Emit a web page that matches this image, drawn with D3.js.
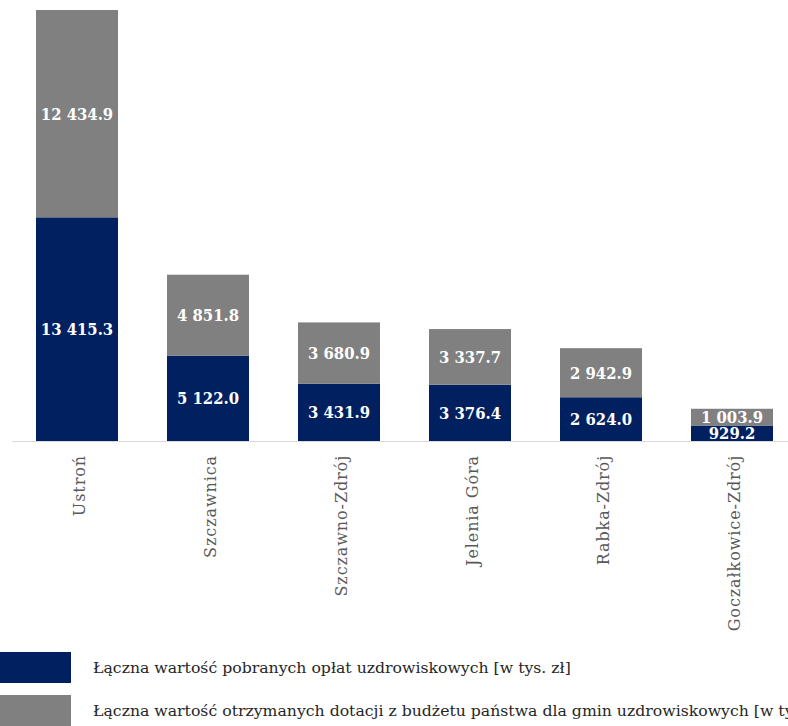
<!DOCTYPE html>
<html>
<head>
<meta charset="utf-8">
<script src="https://cdn.jsdelivr.net/npm/d3@7"></script>
<style>
  body { margin: 0; background: #fff; }
  svg { display: block; }
</style>
</head>
<body>
<svg id="chart" width="788" height="726"></svg>
<script>
const categories = ["Ustroń", "Szczawnica", "Szczawno-Zdrój", "Jelenia Góra", "Rabka-Zdrój", "Goczałkowice-Zdrój"];
const oplaty = [13415.3, 5122.0, 3431.9, 3376.4, 2624.0, 929.2];
const dotacje = [12434.9, 4851.8, 3680.9, 3337.7, 2942.9, 1003.9];
const seriesNames = [
  "Łączna wartość pobranych opłat uzdrowiskowych [w tys. zł]",
  "Łączna wartość otrzymanych dotacji z budżetu państwa dla gmin uzdrowiskowych [w tys. zł]"
];
const colors = ["#002060", "#808080"];

const svg = d3.select("#chart");
const baseY = 441;
const topY = 10;

const rows = categories.map((c, i) => ({ cat: c, s0: oplaty[i], s1: dotacje[i] }));
const stack = d3.stack().keys(["s0", "s1"])(rows);

const x = d3.scaleBand().domain(categories).range([11.5, 797.5])
  .paddingInner(0.374).paddingOuter(0.187);
const maxTotal = d3.max(rows, d => d.s0 + d.s1);
const y = d3.scaleLinear().domain([0, maxTotal]).range([baseY, topY]);

svg.append("defs").append("clipPath").attr("id", "plotClip")
  .append("rect").attr("x", 0).attr("y", 0).attr("width", 800).attr("height", baseY);

const plot = svg.append("g");

stack.forEach((layer, li) => {
  plot.append("g").selectAll("rect").data(layer).join("rect")
    .attr("x", d => x(d.data.cat))
    .attr("width", x.bandwidth())
    .attr("y", d => y(d[1]))
    .attr("height", d => y(d[0]) - y(d[1]))
    .attr("fill", colors[li]);
});

// axis line
svg.append("line")
  .attr("x1", 12).attr("x2", 800)
  .attr("y1", baseY + 0.5).attr("y2", baseY + 0.5)
  .attr("stroke", "#d9d9d9").attr("stroke-width", 1.2);

const fmt = v => {
  const s = v.toFixed(1);
  const [ip, dp] = s.split(".");
  return ip.replace(/\B(?=(\d{3})+(?!\d))/g, " ") + "." + dp;
};

const labels = svg.append("g").attr("clip-path", "url(#plotClip)");
stack.forEach((layer, li) => {
  labels.append("g").selectAll("text").data(layer).join("text")
    .attr("x", d => x(d.data.cat) + x.bandwidth() / 2)
    .attr("y", d => (y(d[0]) + y(d[1])) / 2)
    .attr("dy", "0.36em")
    .attr("text-anchor", "middle")
    .attr("font-family", "'DejaVu Serif Condensed', 'DejaVu Serif', serif")
    .attr("font-stretch", "condensed")
    .attr("font-weight", "bold")
    .attr("font-size", 16.5)
    .attr("fill", "#ffffff")
    .text(d => fmt(d[1] - d[0]));
});

// category labels
const xAxis = d3.axisBottom(x).tickSize(0).tickPadding(0);
const ax = svg.append("g").attr("transform", `translate(0,${baseY})`).call(xAxis);
ax.select(".domain").remove();
ax.selectAll(".tick text")
  .attr("transform", "translate(2,14) rotate(-90)")
  .attr("x", 0).attr("y", 0).attr("dy", "0.35em")
  .attr("text-anchor", "end")
  .attr("font-family", "'DejaVu Serif', serif")
  .attr("font-size", 16)
  .attr("letter-spacing", "0.9px")
  .attr("fill", "#595959");

// legend
const legend = svg.append("g");
const legY = [652, 695];
seriesNames.forEach((name, i) => {
  legend.append("rect").attr("x", 0).attr("y", legY[i]).attr("width", 71).attr("height", 31).attr("fill", colors[i]);
  legend.append("text").attr("x", 93).attr("y", legY[i] + 21)
    .attr("font-family", "'DejaVu Serif', serif")
    .attr("font-size", 15.7)
    .attr("fill", "#262626")
    .text(name);
});
</script>
</body>
</html>
